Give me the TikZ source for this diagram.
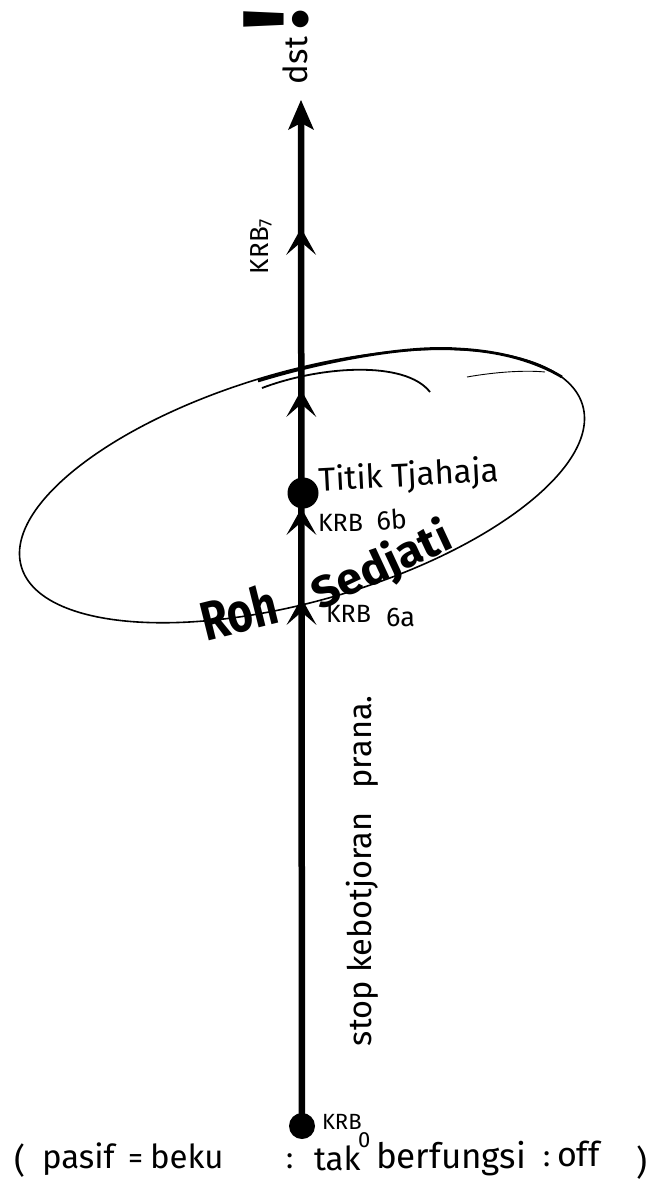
\documentclass[tikz,border=0pt]{standalone}
\usepackage{fontspec}
\setmainfont{Fira Sans}
\usetikzlibrary{arrows.meta,decorations.markings}
\newcommand{\myfs}[1]{\fontsize{#1bp}{#1bp}\selectfont}
\begin{document}
\begin{tikzpicture}[x=1bp,y=-1bp,
  lbl/.style={inner sep=0pt, outer sep=0pt, text=black},
  bold/.style={lbl, font=\myfs{#1}\bfseries},
  txt/.style={lbl, font=\myfs{#1}},
  mainline/.style={line width=6.5bp, line cap=butt},
  dotnode/.style={circle, fill=black, draw=none, inner sep=0pt},
  ring/.style={line width=1.6bp}]
\useasboundingbox (0,0) rectangle (659,1193);
\fill[white] (0,0) rectangle (659,1193);

% ellipse
\coordinate (ec) at (302,486);
\begin{scope}[rotate around={16:(ec)}]
  \draw[ring] (ec) ellipse [x radius=292bp, y radius=115bp];
\end{scope}
\coordinate (t1) at (258,381);
\coordinate (t2) at (458,349);
\coordinate (t3) at (562,377);
\draw[ring, line width=2.8bp] (t1) .. controls (320,362) and (405,345) .. (t2) .. controls (500,351) and (535,361) .. (t3);
\coordinate (h1) at (262,388);
\coordinate (h2) at (430,392);
\coordinate (f1) at (467,377);
\coordinate (f2) at (545,372);
\draw[ring, line width=1.8bp] (h1) .. controls (320,366) and (405,360) .. (h2);
\draw[ring, line width=0.9bp] (f1) .. controls (495,372) and (525,370) .. (f2);

% main axis
\node[dotnode, minimum size=26bp] (k0) at (302,1126) {};
\node[dotnode, minimum size=31bp] (tt) at (303,493) {};
\coordinate (top) at (301,100);
\draw[mainline, -{Stealth[length=30bp,width=26bp,inset=7bp,line width=0pt]},
  postaction={decorate},
  decoration={markings,
    mark=at position 528bp with {\arrow{Stealth[length=27bp,width=30bp,inset=13bp,line width=0pt]}},
    mark=at position 618bp with {\arrow{Stealth[length=27bp,width=30bp,inset=13bp,line width=0pt]}},
    mark=at position 736bp with {\arrow{Stealth[length=27bp,width=30bp,inset=13bp,line width=0pt]}},
    mark=at position 898bp with {\arrow{Stealth[length=27bp,width=30bp,inset=13bp,line width=0pt]}}}]
  (k0.center) -- (top);

% top labels
\node[txt=33, rotate=90, anchor=base west] (dst) at (307,84) {dst\hspace{6bp}{\myfs{92}\bfseries !}};
\node[txt=26, rotate=90, anchor=base west] (krb7) at (268,274) {KRB\textsubscript{7}};

% ellipse labels
\node[txt=33, rotate=3, anchor=base west] (titik) at (319,491) {Titik Tjahaja};
\node[txt=25, anchor=base west] (krb6b) at (318,531) {KRB};
\node[txt=27, rotate=4, anchor=base west] (n6b) at (377,530) {6b};
\node[txt=25, anchor=base west] (krb6a) at (326,622) {KRB};
\node[txt=27, anchor=base west] (n6a) at (386,626) {6a};
\node[bold=44, rotate=14, anchor=base west] (roh) at (206,641) {\scalebox{1}[1.25]{Roh}};
\node[bold=42, rotate=25, anchor=base west] (sedjati) at (320,610) {\scalebox{1.1}[1.05]{Sedjati}};

% vertical text
\node[txt=32.5, rotate=90, anchor=base west] (stop) at (371,1046) {stop kebotjoran\hspace{24bp}prana.};

% bottom line
\node[txt=22, anchor=base west] (krb0) at (322,1129) {KRB};
\node[txt=22, anchor=base west] (n0) at (358,1147) {0};
\node[txt=34, anchor=base west] (lp) at (14,1172) {(};
\node[txt=33, anchor=base west] (pasif) at (42,1168) {pasif};
\node[txt=30, anchor=base west] (eq) at (128,1168) {=};
\node[txt=33, anchor=base west] (beku) at (150,1168) {beku};
\node[txt=30, anchor=base west] (c1) at (286,1168) {:};
\node[txt=33, anchor=base west] (tak) at (314,1170) {tak};
\node[txt=35, anchor=base west] (berf) at (376,1168) {berfungsi};
\node[txt=30, anchor=base west] (c2) at (543,1166) {:};
\node[txt=34, anchor=base west] (off) at (557,1166) {off};
\node[txt=34, anchor=base west] (rp) at (636,1174) {)};
\end{tikzpicture}
\end{document}
